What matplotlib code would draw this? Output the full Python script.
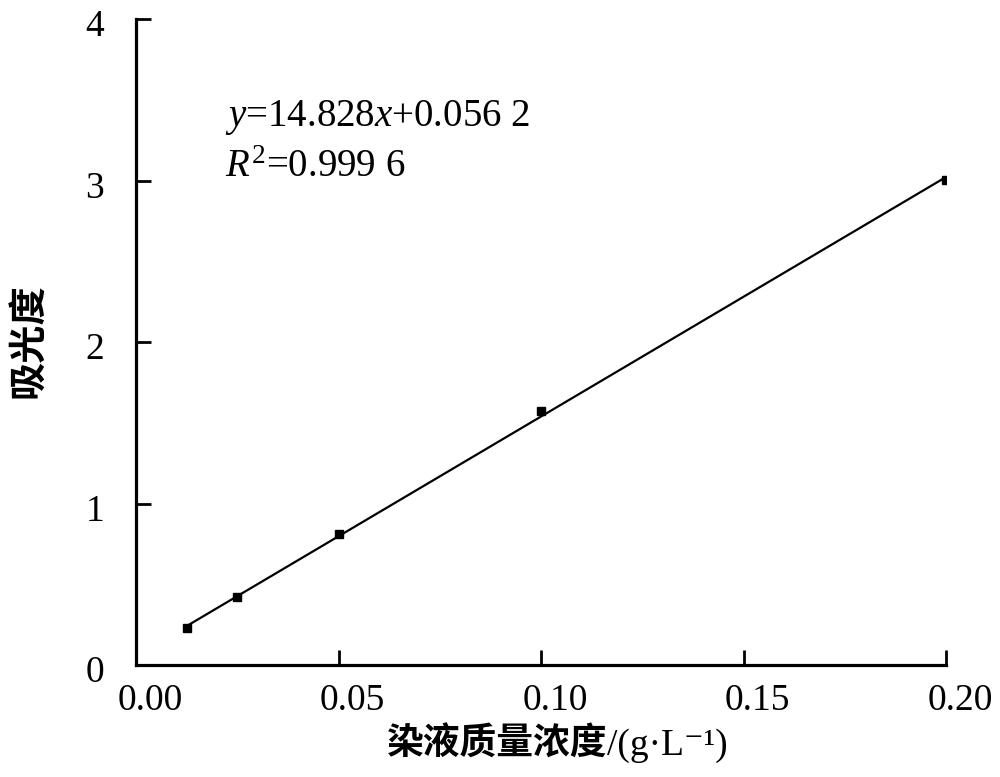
import numpy as np
import matplotlib
matplotlib.use("Agg")
import matplotlib.pyplot as plt
import matplotlib.transforms as mtransforms

# data
conc = [0.0125, 0.025, 0.05, 0.10, 0.20]      # g/L
absorb = [0.23, 0.42, 0.81, 1.575, 3.005]
slope = 14.828
intercept = 0.0562

xticks = [0.00, 0.05, 0.10, 0.15, 0.20]
xticklabels = ["0.00", "0.05", "0.10", "0.15", "0.20"]
yticks = [0, 1, 2, 3, 4]

plt.rcParams['mathtext.fontset'] = 'custom'
plt.rcParams['mathtext.rm'] = 'Liberation Serif'
plt.rcParams['mathtext.it'] = 'Liberation Serif:italic'
plt.rcParams['font.family'] = ['Liberation Serif', 'Noto Sans CJK SC', 'DejaVu Sans']

fig = plt.figure(figsize=(10, 7.77), dpi=100)
ax = fig.add_axes([0.136, 0.144, 0.81, 0.8315])

# fitted line between first and last point
xfit = np.array([conc[0], conc[-1]])
ax.plot(xfit, slope * xfit + intercept, color='black', lw=1.6)
ax.plot(conc, absorb, 's', color='black', ms=6)

ax.set_xlim(0, 0.20)
ax.set_ylim(0, 4)
ax.set_xticks(xticks)
ax.set_xticklabels(xticklabels)
ax.set_yticks(yticks)

for side in ['top', 'right']:
    ax.spines[side].set_visible(False)
for side in ['left', 'bottom']:
    ax.spines[side].set_linewidth(2.3)

ax.tick_params(axis='both', direction='in', length=10.5, width=2.0, labelsize=27)
ax.tick_params(axis='x', pad=13)
ax.tick_params(axis='y', pad=23)

# labels in the original sit a bit right of their ticks
shift_x = mtransforms.ScaledTranslation(14 / 100, 0, fig.dpi_scale_trans)
for lab in ax.get_xticklabels():
    lab.set_transform(lab.get_transform() + shift_x)
shift_y = mtransforms.ScaledTranslation(0, -4 / 100, fig.dpi_scale_trans)
for lab in ax.get_yticklabels():
    lab.set_transform(lab.get_transform() + shift_y)

cjk = ['Noto Sans CJK SC']
ax.set_ylabel("吸光度", family=cjk, fontsize=27.5, fontweight='bold')
ax.yaxis.set_label_coords(-0.108, 0.503)

# x label: bold Chinese part + serif unit part
fig.text(0.607, 0.029, "染液质量浓度", family=cjk, fontsize=26.5,
         fontweight='bold', ha='right', va='baseline')
fig.text(0.607, 0.029, "/(g·L⁻¹)", family=['Liberation Serif', 'DejaVu Sans'],
         fontsize=27, ha='left', va='baseline')

ax.text(0.0219, 3.34, r"$y$=14.828$x$+0.056 2", fontsize=28, family='Liberation Serif')
ax.text(0.0219, 3.02, r"$R^{\mathrm{2}}$=0.999 6", fontsize=28, family='Liberation Serif')

fig.savefig("out.png", dpi=100)
